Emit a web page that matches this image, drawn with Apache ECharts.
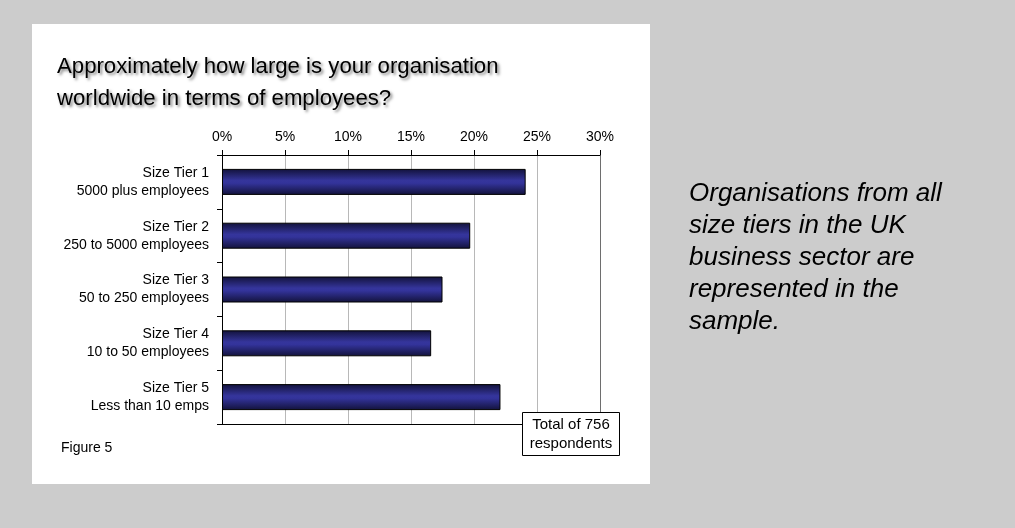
<!DOCTYPE html>
<html>
<head>
<meta charset="utf-8">
<title>Organisation size</title>
<script src="https://cdn.jsdelivr.net/npm/echarts@6/dist/echarts.min.js"></script>
<style>
  html, body { margin: 0; padding: 0; background: #cccccc; }
  #chart { width: 1015px; height: 528px; }
</style>
</head>
<body>
<div id="chart"></div>
<script>
// Survey question: organisation size by tier (share of respondents, %)
const tierNames = ['Size Tier 1', 'Size Tier 2', 'Size Tier 3', 'Size Tier 4', 'Size Tier 5'];
const tierRanges = ['5000 plus employees', '250 to 5000 employees', '50 to 250 employees', '10 to 50 employees', 'Less than 10 emps'];
const shares = [24.1, 19.7, 17.5, 16.6, 22.1];
const axisTicks = [0, 5, 10, 15, 20, 25, 30];
const titleLines = ['Approximately how large is your organisation', 'worldwide in terms of employees?'];
const noteLines = ['Organisations from all', 'size tiers in the UK', 'business sector are', 'represented in the', 'sample.'];
const totalLines = ['Total of 756', 'respondents'];
const figureLabel = 'Figure 5';

const categories = tierNames.map((n, i) => n + '\n' + tierRanges[i]);
const FONT = 'Arial, "Liberation Sans", Helvetica, sans-serif';

const chart = echarts.init(document.getElementById('chart'), null, { renderer: 'canvas' });

const barFill = new echarts.graphic.LinearGradient(0, 0, 0, 1, [
  { offset: 0, color: '#12123a' },
  { offset: 0.45, color: '#35359c' },
  { offset: 0.55, color: '#33339a' },
  { offset: 1, color: '#12123a' }
]);

chart.setOption({
  backgroundColor: '#cccccc',
  animation: false,
  textStyle: { fontFamily: FONT },
  title: {
    text: titleLines.join('\n'),
    left: 57,
    top: 51,
    padding: 0,
    textStyle: {
      fontFamily: FONT,
      fontSize: 22.2,
      fontWeight: 'normal',
      color: '#000',
      lineHeight: 32,
      textShadowColor: 'rgba(0,0,0,0.5)',
      textShadowBlur: 3,
      textShadowOffsetX: 2,
      textShadowOffsetY: 2
    }
  },
  grid: { left: 222, top: 155, width: 378, height: 269, containLabel: false },
  xAxis: [
    {
      type: 'value',
      position: 'top',
      min: axisTicks[0],
      max: axisTicks[axisTicks.length - 1],
      interval: axisTicks[1] - axisTicks[0],
      axisLine: { show: true, lineStyle: { color: '#000', width: 1 } },
      axisTick: { show: true, length: 5, lineStyle: { color: '#000' } },
      axisLabel: {
        margin: 11,
        color: '#000',
        fontSize: 14,
        fontFamily: FONT,
        formatter: v => v + '%'
      },
      splitLine: {
        show: true,
        showMinLine: false,
        lineStyle: {
          color: ['#b8b8b8', '#b8b8b8', '#b8b8b8', '#b8b8b8', '#b8b8b8', '#6e6e6e'],
          width: 1
        }
      }
    },
    {
      // plain baseline along the bottom of the plot
      type: 'value',
      position: 'bottom',
      min: axisTicks[0],
      max: axisTicks[axisTicks.length - 1],
      axisLine: { show: true, lineStyle: { color: '#000', width: 1 } },
      axisTick: { show: false },
      axisLabel: { show: false },
      splitLine: { show: false }
    }
  ],
  yAxis: {
    type: 'category',
    inverse: true,
    data: categories,
    axisLine: { show: true, lineStyle: { color: '#000', width: 1 } },
    axisTick: { show: true, length: 5, lineStyle: { color: '#000' } },
    axisLabel: {
      margin: 13,
      color: '#000',
      fontSize: 14,
      fontFamily: FONT,
      lineHeight: 18,
      align: 'right'
    }
  },
  series: [{
    type: 'bar',
    xAxisIndex: 0,
    data: shares,
    barWidth: 26,
    itemStyle: { color: barFill, borderColor: '#000', borderWidth: 1 }
  }],
  graphic: [
    {
      type: 'rect',
      z: -10,
      silent: true,
      shape: { x: 32, y: 24, width: 618, height: 460 },
      style: { fill: '#ffffff' }
    },
    {
      type: 'text',
      left: 61,
      top: 441,
      style: { text: figureLabel, font: '14px ' + FONT, fill: '#000' }
    },
    {
      type: 'group',
      left: 522,
      top: 412,
      zlevel: 1,
      children: [
        {
          type: 'rect',
          zlevel: 1,
          shape: { x: 0, y: 0, width: 97, height: 43 },
          style: { fill: '#fff', stroke: '#000', lineWidth: 1 }
        },
        {
          type: 'text',
          zlevel: 1,
          z: 2,
          x: 48.5,
          y: 21.5,
          style: {
            text: totalLines.join('\n'),
            font: '15px ' + FONT,
            lineHeight: 19,
            fill: '#000',
            align: 'center',
            verticalAlign: 'middle'
          }
        }
      ]
    },
    {
      type: 'text',
      left: 689,
      top: 178,
      style: {
        text: noteLines.join('\n'),
        font: 'italic 26px ' + FONT,
        lineHeight: 32,
        fill: '#000'
      }
    }
  ]
});
</script>
</body>
</html>
